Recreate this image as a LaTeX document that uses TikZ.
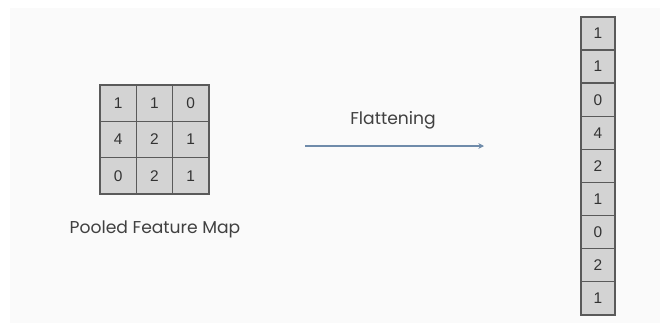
\documentclass[tikz,border=0pt]{standalone}
\usepackage{fontspec}
\setmainfont{Poppins}
\newfontfamily\cellfont{Liberation Sans}
\usetikzlibrary{arrows.meta}
\definecolor{panel}{HTML}{FAFAFA}
\definecolor{cellfill}{HTML}{D3D3D3}
\definecolor{cellline}{HTML}{5A5A5A}
\definecolor{arrowblue}{HTML}{6F8BAA}
\begin{document}
\begin{tikzpicture}[x=0.025cm, y=-0.025cm,
    cell/.style={draw=cellline, fill=cellfill, line width=1pt, minimum width=36.3*0.025cm,
      minimum height=36.3*0.025cm, inner sep=0pt, font=\cellfont\fontsize{11}{13}\selectfont, text=black!80},
    vcell/.style={cell, minimum width=34*0.025cm, minimum height=33.1*0.025cm},
    caption/.style={font=\fontsize{12.2}{14}\selectfont, text=black!75}]
  \useasboundingbox (0,0) rectangle (660,323);
  \fill[white] (0,0) rectangle (660,323);
  \fill[panel] (10,8) rectangle (661,324);

  % pooled map, 3x3
  \foreach \v [count=\i from 0] in {1,1,0,4,2,1,0,2,1} {
    \pgfmathtruncatemacro{\r}{int(\i/3)}
    \pgfmathtruncatemacro{\c}{mod(\i,3)}
    \node[cell] (p\i) at (118.2+36.3*\c, 103.2+36.3*\r) {\v};
  }
  \node[caption] (plabel) at (155,229) {Pooled Feature Map};

  % flattened column
  \foreach \v [count=\i from 0] in {1,1,0,4,2,1,0,2,1}
    \node[vcell] (f\i) at (598, 33.5+33.1*\i) {\v};

  \coordinate (astart) at (305,146);
  \coordinate (aend) at (484,146);
  \draw[arrowblue, line width=1.2pt, -{Stealth[length=4pt,width=4pt]}] (astart) -- (aend);
  \node[caption] (alabel) at (393,120) {Flattening};
\end{tikzpicture}
\end{document}
